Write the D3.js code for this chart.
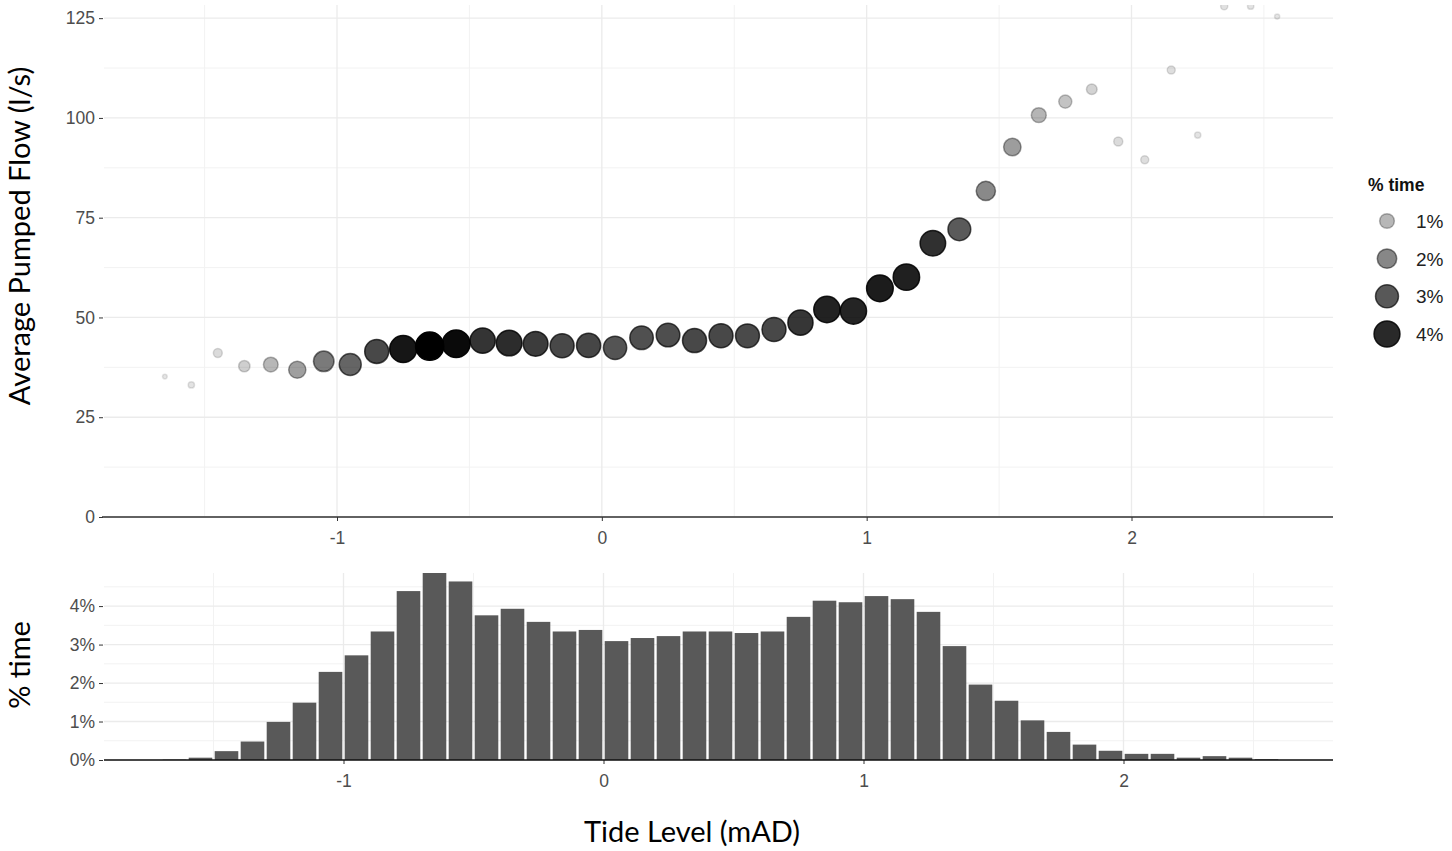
<!DOCTYPE html>
<html>
<head>
<meta charset="utf-8">
<script src="https://cdn.jsdelivr.net/npm/d3@7"></script>
<style>
  body { margin: 0; background: #fff; }
  .tick text { font-family: "Liberation Sans", Arial, sans-serif; }
</style>
</head>
<body>
<div id="chart"></div>
<script>
// tide level bins (bin centres, mAD)
var tide = [-1.65, -1.55, -1.45, -1.35, -1.25, -1.15, -1.05, -0.95, -0.85, -0.75,
            -0.65, -0.55, -0.45, -0.35, -0.25, -0.15, -0.05, 0.05, 0.15, 0.25,
            0.35, 0.45, 0.55, 0.65, 0.75, 0.85, 0.95, 1.05, 1.15, 1.25,
            1.35, 1.45, 1.55, 1.65, 1.75, 1.85, 1.95, 2.05, 2.15, 2.25,
            2.35, 2.45, 2.55];
// average pumped flow per bin (l/s)
var flow = [35.2, 33.1, 41.1, 37.8, 38.2, 36.9, 39.0, 38.2, 41.5, 42.1,
            42.8, 43.4, 44.2, 43.6, 43.4, 42.9, 43.0, 42.4, 44.9, 45.6,
            44.2, 45.4, 45.4, 47.0, 48.7, 52.0, 51.6, 57.3, 60.1, 68.6,
            72.1, 81.7, 92.7, 100.7, 104.1, 107.2, 94.1, 89.5, 112.0, 95.7,
            128.0, 128.0, 125.4];
// % of time spent in each bin
var pctTime = [0.01, 0.06, 0.23, 0.48, 0.99, 1.49, 2.29, 2.72, 3.34, 4.39,
               4.86, 4.64, 3.76, 3.93, 3.59, 3.34, 3.38, 3.09, 3.17, 3.22,
               3.34, 3.34, 3.30, 3.34, 3.72, 4.14, 4.10, 4.26, 4.18, 3.85,
               2.96, 1.96, 1.54, 1.03, 0.73, 0.40, 0.24, 0.16, 0.16, 0.06,
               0.10, 0.06, 0.02];
var binWidth = 0.1;

var xTicks = [-1, 0, 1, 2];
var xMinor = [-1.5, -0.5, 0.5, 1.5, 2.5];
var flowTicks = [0, 25, 50, 75, 100, 125];
var flowMinor = [12.5, 37.5, 62.5, 87.5, 112.5];
var pctTicks = [0, 1, 2, 3, 4];
var pctMinor = [0.5, 1.5, 2.5, 3.5, 4.5];
var legendValues = [1, 2, 3, 4];

var W = 1452, H = 851;
var panelL = 104, panelR = 1333;
var labelFont = '"Liberation Sans", Arial, sans-serif';
var titleFont = 'Lato, "Open Sans", sans-serif';

var svg = d3.select('#chart').append('svg')
	.attr('width', W)
	.attr('height', H)
	.style('background', '#fff');

// scales
var xTop = d3.scaleLinear().domain([-1, 2]).range([337, 1131.5]);
var yTop = d3.scaleLinear().domain([0, 128.3]).range([517, 5]);
var xBot = d3.scaleLinear().domain([-1, 2]).range([343.5, 1123.5]);
var yBot = d3.scaleLinear().domain([0, d3.max(pctTime)]).range([760, 573]);

var pctExtent = d3.extent(pctTime);
var sizeScale = d3.scaleSqrt().domain(pctExtent).range([1, 6]).clamp(true);
var alphaScale = d3.scaleLinear().domain(pctExtent).range([0.1, 1]).clamp(true);
function radius(p) { return sizeScale(p) * 4.7 / 2; }
function shade(p) { return 'rgba(0,0,0,' + alphaScale(p) + ')'; }
function plain(d) { return String(d); }

var points = tide.map(function(t, i) { return { tide: t, flow: flow[i], pct: pctTime[i] }; });

// ---------- top panel ----------
var topPanel = svg.append('g');

topPanel.selectAll('.vminor').data(xMinor).enter().append('line')
	.attr('x1', function(d) { return xTop(d); })
	.attr('x2', function(d) { return xTop(d); })
	.attr('y1', yTop.range()[1]).attr('y2', yTop(0))
	.attr('stroke', '#f2f2f2').attr('stroke-width', 1);
topPanel.selectAll('.hminor').data(flowMinor).enter().append('line')
	.attr('x1', panelL).attr('x2', panelR)
	.attr('y1', function(d) { return yTop(d); })
	.attr('y2', function(d) { return yTop(d); })
	.attr('stroke', '#f2f2f2').attr('stroke-width', 1);
topPanel.selectAll('.vmajor').data(xTicks).enter().append('line')
	.attr('x1', function(d) { return xTop(d); })
	.attr('x2', function(d) { return xTop(d); })
	.attr('y1', yTop.range()[1]).attr('y2', yTop(0))
	.attr('stroke', '#ebebeb').attr('stroke-width', 1.3);
topPanel.selectAll('.hmajor').data(flowTicks).enter().append('line')
	.attr('x1', panelL).attr('x2', panelR)
	.attr('y1', function(d) { return yTop(d); })
	.attr('y2', function(d) { return yTop(d); })
	.attr('stroke', '#ebebeb').attr('stroke-width', 1.3);

svg.append('clipPath').attr('id', 'topclip').append('rect')
	.attr('x', panelL - 20).attr('y', yTop.range()[1])
	.attr('width', panelR - panelL + 40).attr('height', yTop(0) - yTop.range()[1]);

topPanel.append('g').attr('clip-path', 'url(#topclip)')
	.selectAll('circle').data(points).enter().append('circle')
	.attr('cx', function(d) { return xTop(d.tide); })
	.attr('cy', function(d) { return yTop(d.flow); })
	.attr('r', function(d) { return radius(d.pct); })
	.attr('fill', function(d) { return shade(d.pct); })
	.attr('stroke', function(d) { return shade(d.pct); })
	.attr('stroke-width', 1.5);

// axes
var topXAxis = topPanel.append('g')
	.attr('transform', 'translate(0,' + yTop(0) + ')')
	.call(d3.axisBottom(xTop).tickValues(xTicks).tickSize(4).tickPadding(11).tickFormat(plain));
topXAxis.select('.domain').remove();
topXAxis.append('line').attr('x1', panelL - 2).attr('x2', panelR)
	.attr('stroke', '#333').attr('stroke-width', 1.5);

var topYAxis = topPanel.append('g')
	.attr('transform', 'translate(' + (panelL - 1) + ',0)')
	.call(d3.axisLeft(yTop).tickValues(flowTicks).tickSize(4).tickPadding(4).tickFormat(plain));
topYAxis.select('.domain').remove();

// ---------- bottom panel ----------
var botPanel = svg.append('g');

botPanel.selectAll('.vminor').data(xMinor).enter().append('line')
	.attr('x1', function(d) { return xBot(d); })
	.attr('x2', function(d) { return xBot(d); })
	.attr('y1', yBot.range()[1]).attr('y2', yBot(0))
	.attr('stroke', '#f2f2f2').attr('stroke-width', 1);
botPanel.selectAll('.hminor').data(pctMinor).enter().append('line')
	.attr('x1', panelL).attr('x2', panelR)
	.attr('y1', function(d) { return yBot(d); })
	.attr('y2', function(d) { return yBot(d); })
	.attr('stroke', '#f2f2f2').attr('stroke-width', 1);
botPanel.selectAll('.vmajor').data(xTicks).enter().append('line')
	.attr('x1', function(d) { return xBot(d); })
	.attr('x2', function(d) { return xBot(d); })
	.attr('y1', yBot.range()[1]).attr('y2', yBot(0))
	.attr('stroke', '#ebebeb').attr('stroke-width', 1.3);
botPanel.selectAll('.hmajor').data(pctTicks).enter().append('line')
	.attr('x1', panelL).attr('x2', panelR)
	.attr('y1', function(d) { return yBot(d); })
	.attr('y2', function(d) { return yBot(d); })
	.attr('stroke', '#ebebeb').attr('stroke-width', 1.3);

var barPx = xBot(binWidth) - xBot(0);
botPanel.selectAll('rect.bar').data(points).enter().append('rect')
	.attr('class', 'bar')
	.attr('x', function(d) { return xBot(d.tide - binWidth / 2) + 1.2; })
	.attr('width', barPx - 2.4)
	.attr('y', function(d) { return yBot(d.pct); })
	.attr('height', function(d) { return yBot(0) - yBot(d.pct); })
	.attr('fill', '#595959');

var botXAxis = botPanel.append('g')
	.attr('transform', 'translate(0,' + yBot(0) + ')')
	.call(d3.axisBottom(xBot).tickValues(xTicks).tickSize(4).tickPadding(11).tickFormat(plain));
botXAxis.select('.domain').remove();
botXAxis.append('line').attr('x1', panelL).attr('x2', panelR)
	.attr('stroke', '#111').attr('stroke-width', 1.5);

var botYAxis = botPanel.append('g')
	.attr('transform', 'translate(' + (panelL - 1) + ',0)')
	.call(d3.axisLeft(yBot).tickValues(pctTicks).tickSize(4).tickPadding(4)
		.tickFormat(function(d) { return d + '%'; }));
botYAxis.select('.domain').remove();

// tick styling
svg.selectAll('.tick text')
	.attr('fill', '#4d4d4d')
	.style('font-size', '17.5px');
svg.selectAll('.tick line').attr('stroke', '#333');

// ---------- axis titles ----------
svg.append('text')
	.attr('transform', 'translate(30,236) rotate(-90)')
	.attr('text-anchor', 'middle')
	.style('font-family', titleFont).style('font-size', '29px')
	.attr('fill', '#000')
	.text('Average Pumped Flow (l/s)');

svg.append('text')
	.attr('transform', 'translate(30,665) rotate(-90)')
	.attr('text-anchor', 'middle')
	.style('font-family', titleFont).style('font-size', '29px')
	.attr('fill', '#000')
	.text('% time');

svg.append('text')
	.attr('x', 692).attr('y', 842)
	.attr('text-anchor', 'middle')
	.style('font-family', titleFont).style('font-size', '29px')
	.attr('fill', '#000')
	.text('Tide Level (mAD)');

// ---------- legend ----------
var legend = svg.append('g').attr('transform', 'translate(1368,0)');
legend.append('text')
	.attr('x', 0).attr('y', 191)
	.style('font-family', labelFont).style('font-size', '17.5px').style('font-weight', 'bold')
	.attr('fill', '#111')
	.text('% time');

var legendY = d3.scalePoint().domain(legendValues).range([221, 334]);
var items = legend.selectAll('.item').data(legendValues).enter().append('g')
	.attr('transform', function(d) { return 'translate(0,' + legendY(d) + ')'; });
items.append('circle')
	.attr('cx', 19).attr('cy', 0)
	.attr('r', function(d) { return radius(d); })
	.attr('fill', function(d) { return shade(d); })
	.attr('stroke', function(d) { return shade(d); })
	.attr('stroke-width', 1.5);
items.append('text')
	.attr('x', 48).attr('y', 0).attr('dy', '0.36em')
	.style('font-family', labelFont).style('font-size', '19px')
	.attr('fill', '#222')
	.text(function(d) { return d + '%'; });
</script>
</body>
</html>
